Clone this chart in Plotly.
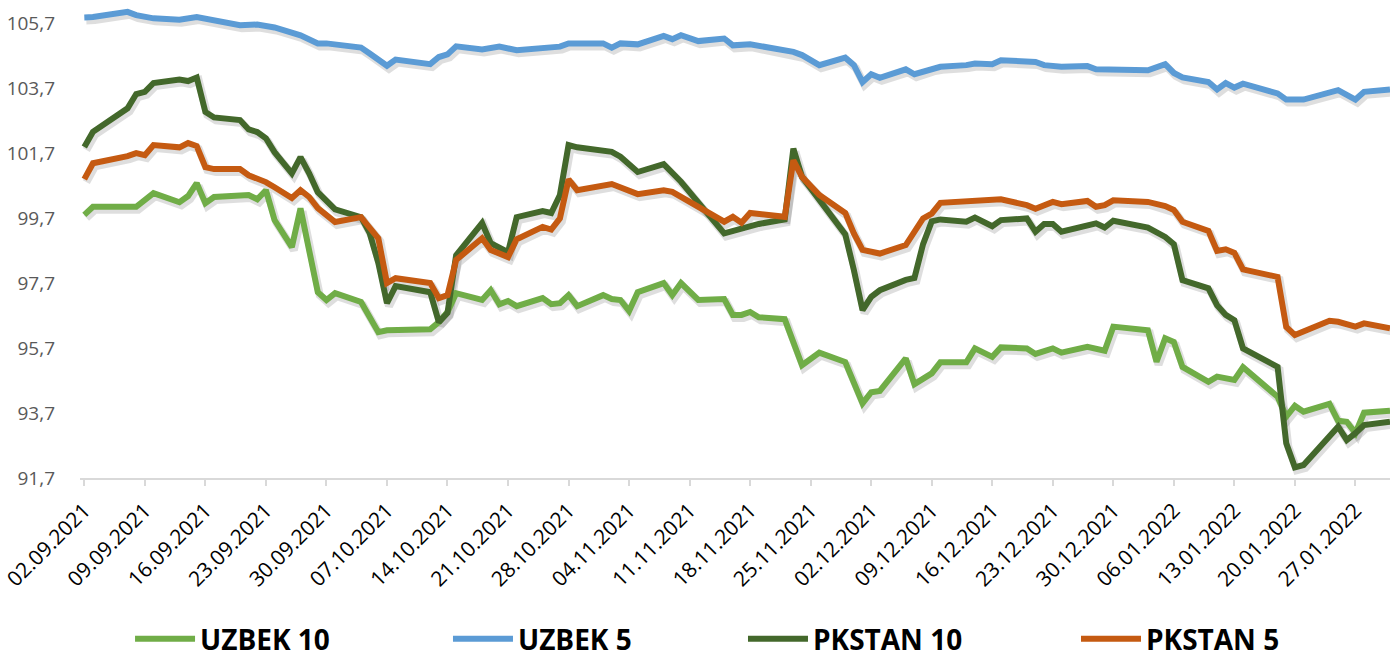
import plotly.graph_objects as go
import pandas as pd

# ---------------- data ----------------
uz10_dates = ['2021-09-02','2021-09-03','2021-09-08','2021-09-10','2021-09-13','2021-09-14','2021-09-15','2021-09-16','2021-09-17','2021-09-21','2021-09-22','2021-09-23','2021-09-24','2021-09-26','2021-09-27','2021-09-29','2021-09-30',
              '2021-10-01','2021-10-04','2021-10-06','2021-10-07','2021-10-12','2021-10-13','2021-10-14','2021-10-15','2021-10-18','2021-10-19','2021-10-20','2021-10-21','2021-10-22','2021-10-25','2021-10-26','2021-10-27','2021-10-28','2021-10-29',
              '2021-11-01','2021-11-02','2021-11-03','2021-11-04','2021-11-05','2021-11-08','2021-11-09','2021-11-10','2021-11-12','2021-11-15','2021-11-16','2021-11-17','2021-11-18','2021-11-19','2021-11-22','2021-11-24','2021-11-26','2021-11-29',
              '2021-12-01','2021-12-02','2021-12-03','2021-12-06','2021-12-07','2021-12-09','2021-12-10','2021-12-13','2021-12-14','2021-12-16','2021-12-17','2021-12-20','2021-12-21','2021-12-23','2021-12-24','2021-12-27','2021-12-29','2021-12-30',
              '2022-01-03','2022-01-04','2022-01-05','2022-01-06','2022-01-07','2022-01-10','2022-01-11','2022-01-13','2022-01-14','2022-01-18','2022-01-19','2022-01-20','2022-01-21','2022-01-24','2022-01-25','2022-01-26','2022-01-27','2022-01-28','2022-01-31']
uz10_vals = [99.8,100.05,100.05,100.47,100.19,100.38,100.78,100.16,100.35,100.41,100.28,100.56,99.64,98.81,100.0,97.42,97.18,
             97.39,97.12,96.19,96.25,96.28,96.5,96.81,97.39,97.18,97.48,97.05,97.15,96.99,97.24,97.05,97.08,97.33,96.99,
             97.33,97.21,97.18,96.84,97.42,97.7,97.33,97.7,97.18,97.21,96.72,96.72,96.81,96.65,96.59,95.17,95.56,95.27,
             94.0,94.34,94.38,95.38,94.59,94.92,95.26,95.26,95.69,95.43,95.72,95.69,95.52,95.69,95.56,95.74,95.62,96.36,
             96.25,95.28,96.0,95.89,95.12,94.66,94.82,94.72,95.11,94.2,93.59,93.92,93.74,93.98,93.46,93.43,93.08,93.71,93.77]

uz5_dates = ['2021-09-02','2021-09-03','2021-09-07','2021-09-08','2021-09-10','2021-09-13','2021-09-15','2021-09-16','2021-09-20','2021-09-22','2021-09-24','2021-09-27','2021-09-29','2021-09-30',
             '2021-10-04','2021-10-05','2021-10-07','2021-10-08','2021-10-12','2021-10-13','2021-10-14','2021-10-15','2021-10-18','2021-10-20','2021-10-22','2021-10-27','2021-10-28',
             '2021-11-01','2021-11-02','2021-11-03','2021-11-05','2021-11-08','2021-11-09','2021-11-10','2021-11-12','2021-11-15','2021-11-16','2021-11-18','2021-11-23','2021-11-24','2021-11-26','2021-11-29','2021-11-30',
             '2021-12-01','2021-12-02','2021-12-03','2021-12-06','2021-12-07','2021-12-09','2021-12-10','2021-12-13','2021-12-14','2021-12-16','2021-12-17','2021-12-21','2021-12-22','2021-12-24','2021-12-27','2021-12-28','2021-12-31',
             '2022-01-03','2022-01-05','2022-01-06','2022-01-07','2022-01-10','2022-01-11','2022-01-12','2022-01-13','2022-01-14','2022-01-18','2022-01-19','2022-01-21','2022-01-25','2022-01-27','2022-01-28','2022-01-31']
uz5_vals = [105.88,105.89,106.05,105.95,105.85,105.81,105.89,105.84,105.64,105.66,105.57,105.33,105.08,105.08,
            104.95,104.77,104.39,104.58,104.44,104.66,104.74,104.99,104.89,104.98,104.87,104.98,105.08,
            105.08,104.95,105.08,105.05,105.31,105.21,105.33,105.15,105.23,105.02,105.05,104.82,104.72,104.41,104.64,104.41,
            103.89,104.13,104.02,104.28,104.13,104.31,104.36,104.41,104.46,104.44,104.56,104.51,104.41,104.36,104.38,104.28,104.28,
            104.25,104.44,104.17,104.03,103.89,103.66,103.86,103.72,103.84,103.54,103.35,103.35,103.64,103.35,103.59,103.66]

pk10_dates = ['2021-09-02','2021-09-03','2021-09-07','2021-09-08','2021-09-09','2021-09-10','2021-09-13','2021-09-14','2021-09-15','2021-09-16','2021-09-17','2021-09-20','2021-09-21','2021-09-22','2021-09-23','2021-09-24','2021-09-26','2021-09-27','2021-09-28','2021-09-29',
              '2021-10-01','2021-10-04','2021-10-05','2021-10-06','2021-10-07','2021-10-08','2021-10-12','2021-10-13','2021-10-14','2021-10-15','2021-10-18','2021-10-19','2021-10-21','2021-10-22','2021-10-25','2021-10-26','2021-10-27','2021-10-28','2021-10-29',
              '2021-11-02','2021-11-03','2021-11-05','2021-11-08','2021-11-10','2021-11-15','2021-11-17','2021-11-19','2021-11-22','2021-11-23','2021-11-24','2021-11-29','2021-11-30',
              '2021-12-01','2021-12-02','2021-12-03','2021-12-06','2021-12-07','2021-12-08','2021-12-09','2021-12-10','2021-12-13','2021-12-14','2021-12-16','2021-12-17','2021-12-20','2021-12-21','2021-12-22','2021-12-23','2021-12-24','2021-12-28','2021-12-29','2021-12-30',
              '2022-01-03','2022-01-05','2022-01-06','2022-01-07','2022-01-10','2022-01-11','2022-01-12','2022-01-13','2022-01-14','2022-01-18','2022-01-19','2022-01-20','2022-01-21','2022-01-25','2022-01-26','2022-01-27','2022-01-28','2022-01-31']
pk10_vals = [101.89,102.36,103.08,103.52,103.59,103.86,103.97,103.92,104.03,102.97,102.8,102.72,102.43,102.35,102.16,101.73,101.08,101.58,101.08,100.5,
             99.97,99.73,99.24,98.32,97.08,97.61,97.42,96.5,96.78,98.56,99.55,98.93,98.65,99.73,99.92,99.86,100.41,101.95,101.88,
             101.74,101.59,101.12,101.36,100.82,99.23,99.38,99.52,99.66,101.84,100.97,99.2,98.1,
             96.87,97.28,97.48,97.8,97.86,98.9,99.6,99.66,99.59,99.72,99.45,99.64,99.69,99.28,99.52,99.52,99.28,99.54,99.41,99.62,
             99.41,99.12,98.9,97.79,97.54,97.02,96.72,96.56,95.69,95.12,92.77,92.03,92.1,93.28,92.87,93.08,93.33,93.43]

pk5_dates = ['2021-09-02','2021-09-03','2021-09-07','2021-09-08','2021-09-09','2021-09-10','2021-09-13','2021-09-14','2021-09-15','2021-09-16','2021-09-17','2021-09-20','2021-09-21','2021-09-22','2021-09-23','2021-09-24','2021-09-26','2021-09-27','2021-09-28','2021-09-29',
             '2021-10-01','2021-10-04','2021-10-06','2021-10-07','2021-10-08','2021-10-12','2021-10-13','2021-10-14','2021-10-15','2021-10-18','2021-10-19','2021-10-21','2021-10-22','2021-10-25','2021-10-26','2021-10-27','2021-10-28','2021-10-29',
             '2021-11-02','2021-11-05','2021-11-08','2021-11-09','2021-11-15','2021-11-16','2021-11-17','2021-11-18','2021-11-22','2021-11-23','2021-11-24','2021-11-26','2021-11-29','2021-11-30',
             '2021-12-01','2021-12-03','2021-12-06','2021-12-08','2021-12-09','2021-12-10','2021-12-13','2021-12-14','2021-12-16','2021-12-17','2021-12-20','2021-12-21','2021-12-23','2021-12-24','2021-12-27','2021-12-28','2021-12-29','2021-12-30',
             '2022-01-03','2022-01-05','2022-01-06','2022-01-07','2022-01-10','2022-01-11','2022-01-12','2022-01-13','2022-01-14','2022-01-18','2022-01-19','2022-01-20','2022-01-24','2022-01-25','2022-01-27','2022-01-28','2022-01-31']
pk5_vals = [100.9,101.39,101.61,101.7,101.64,101.95,101.88,102.01,101.92,101.27,101.21,101.21,101.02,100.93,100.81,100.65,100.32,100.56,100.35,100.01,
            99.58,99.73,99.08,97.7,97.85,97.7,97.24,97.33,98.41,99.08,98.72,98.5,99.05,99.43,99.35,99.69,100.89,100.56,
            100.75,100.44,100.56,100.51,99.59,99.74,99.56,99.86,99.74,101.48,100.97,100.41,99.86,99.23,
            98.72,98.61,98.87,99.69,99.84,100.17,100.2,100.25,100.23,100.28,100.1,99.99,100.2,100.13,100.23,100.05,100.1,100.25,
            100.2,100.07,99.95,99.59,99.31,98.69,98.74,98.63,98.12,97.89,96.35,96.1,96.54,96.51,96.36,96.46,96.31]

series_names = ['UZBEK 10', 'UZBEK 5', 'PKSTAN 10', 'PKSTAN 5']
series_colors = ['#70AD47', '#5B9BD5', '#43682B', '#C55A11']
series_data = [(uz10_dates, uz10_vals), (uz5_dates, uz5_vals), (pk10_dates, pk10_vals), (pk5_dates, pk5_vals)]

y_tick_vals = [91.7, 93.7, 95.7, 97.7, 99.7, 101.7, 103.7, 105.7]
y_tick_text = [f"{v:.1f}".replace('.', ',') for v in y_tick_vals]
x_ticks = pd.date_range('2021-09-02', '2022-01-27', freq='7D')
x_tick_text = [d.strftime('%d.%m.%Y') for d in x_ticks]

# ---------------- figure ----------------
x_range = [pd.Timestamp('2021-09-01 12:00'), pd.Timestamp('2022-01-31 00:00')]
y_range = [91.7, 106.2]
plot_w, plot_h = 1310, 471
px_day = plot_w / ((x_range[1] - x_range[0]) / pd.Timedelta(days=1))
px_unit = plot_h / (y_range[1] - y_range[0])
sx = pd.Timedelta(days=2 / px_day)      # shadow offset (right)
sy = 3 / px_unit                         # shadow offset (down)

legend_ids = ['legend', 'legend2', 'legend3', 'legend4']
legend_x = [0.0382, 0.2809, 0.5061, 0.7603]

fig = go.Figure()
# soft shadows on a hidden, slightly shifted axis pair
for (d, v) in series_data:
    fig.add_trace(go.Scatter(x=d, y=v, mode='lines', xaxis='x', yaxis='y',
                             line=dict(color='rgba(0,0,0,0.13)', width=8),
                             showlegend=False, hoverinfo='skip'))
for (d, v), n, c, lg in zip(series_data, series_names, series_colors, legend_ids):
    fig.add_trace(go.Scatter(x=d, y=v, mode='lines', name=n, xaxis='x2', yaxis='y2',
                             legend=lg, line=dict(color=c, width=6)))

font_family = 'Open Sans'
legend_common = dict(orientation='h', y=-0.342, yanchor='middle', xanchor='left',
                     font=dict(size=28, color='#000000', family=font_family, weight='bold'),
                     itemwidth=60, entrywidth=250, entrywidthmode='pixels',
                     bgcolor='rgba(0,0,0,0)')

fig.update_layout(
    width=1390, height=661,
    margin=dict(l=80, r=0, t=7, b=183, autoexpand=False),
    paper_bgcolor='white', plot_bgcolor='white',
    font=dict(family=font_family),
    xaxis=dict(type='date', range=[x_range[0] - sx, x_range[1] - sx], visible=False, automargin=False),
    yaxis=dict(range=[y_range[0] + sy, y_range[1] + sy], visible=False, automargin=False),
    xaxis2=dict(type='date', overlaying='x', side='bottom', range=x_range, automargin=False,
                tickvals=list(x_ticks), ticktext=x_tick_text, tickangle=-45,
                tickfont=dict(size=21, color='#000000', family=font_family),
                showgrid=False, zeroline=False,
                showline=True, linecolor='#D9D9D9', linewidth=2,
                ticks='outside', ticklen=6, tickwidth=2, tickcolor='#D9D9D9',
                ticklabelstandoff=4),
    yaxis2=dict(overlaying='y', side='left', range=y_range, automargin=False,
                tickvals=y_tick_vals, ticktext=y_tick_text,
                tickfont=dict(size=19, color='#595959', family=font_family),
                showgrid=False, zeroline=False, showline=False, ticks='',
                ticklabelstandoff=24),
    showlegend=True,
)
for lg, lx in zip(legend_ids, legend_x):
    fig.update_layout({lg: dict(legend_common, x=lx)})

# remove the browser's default page margin so the figure fills the window exactly
fig.write_html('out.html', config={'displayModeBar': False},
               post_script="document.body.style.margin='0';document.body.style.overflow='hidden';")
